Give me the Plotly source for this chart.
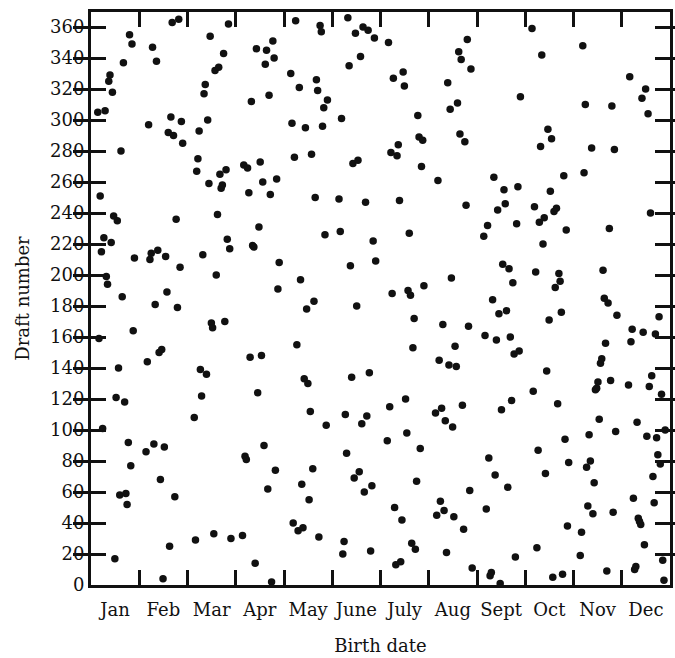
import plotly.graph_objects as go

# 1970 draft lottery: draft number assigned to each birth date, month by month
months = ["Jan", "Feb", "Mar", "Apr", "May", "June",
          "July", "Aug", "Sept", "Oct", "Nov", "Dec"]

jan = [305, 159, 251, 215, 101, 224, 306, 199, 194, 325, 329, 221, 318, 238, 17, 121,
       235, 140, 58, 280, 186, 337, 118, 59, 52, 92, 355, 77, 349, 164, 211]
feb = [86, 144, 297, 210, 214, 347, 91, 181, 338, 216, 150, 68, 152, 4, 89, 212,
       189, 292, 25, 302, 363, 290, 57, 236, 179, 365, 205, 299, 285]
mar = [108, 29, 267, 275, 293, 139, 122, 213, 317, 323, 136, 300, 259, 354, 169, 166,
       33, 332, 200, 239, 334, 265, 256, 258, 343, 170, 268, 223, 362, 217, 30]
apr = [32, 271, 83, 81, 269, 253, 147, 312, 219, 218, 14, 346, 124, 231, 273, 148,
       260, 90, 336, 345, 62, 316, 252, 2, 351, 340, 74, 262, 191, 208]
may = [330, 298, 40, 276, 364, 155, 35, 321, 197, 65, 37, 133, 295, 178, 130, 55,
       112, 278, 75, 183, 250, 326, 319, 31, 361, 357, 296, 308, 226, 103, 313]
jun = [249, 228, 301, 20, 28, 110, 85, 366, 335, 206, 134, 272, 69, 356, 180, 274,
       73, 341, 104, 360, 60, 247, 109, 358, 137, 22, 64, 222, 353, 209]
jul = [93, 350, 115, 279, 188, 327, 50, 13, 277, 284, 248, 15, 42, 331, 322, 120,
       98, 190, 227, 187, 27, 153, 172, 23, 67, 303, 289, 88, 270, 287, 193]
aug = [111, 45, 261, 145, 54, 114, 168, 48, 106, 21, 324, 142, 307, 198, 102, 44,
       154, 141, 311, 344, 291, 339, 116, 36, 286, 245, 352, 167, 61, 333, 11]
sep = [225, 161, 49, 232, 82, 6, 8, 184, 263, 71, 158, 242, 175, 1, 113, 207,
       255, 246, 177, 63, 204, 160, 119, 195, 149, 18, 233, 257, 151, 315]
oct_ = [359, 125, 244, 202, 24, 87, 234, 283, 342, 220, 237, 72, 138, 294, 171, 254,
        288, 5, 241, 192, 243, 117, 201, 196, 176, 7, 264, 94, 229, 38, 79]
nov = [19, 34, 348, 266, 310, 76, 51, 97, 80, 282, 46, 66, 126, 127, 131, 107,
       143, 146, 203, 185, 156, 9, 182, 230, 132, 309, 47, 281, 99, 174]
dec = [129, 328, 157, 165, 56, 10, 12, 105, 43, 41, 39, 314, 163, 26, 320, 96,
       304, 128, 240, 135, 70, 53, 162, 95, 84, 173, 78, 123, 16, 3, 100]

by_month = [jan, feb, mar, apr, may, jun, jul, aug, sep, oct_, nov, dec]
y_ticks = list(range(0, 361, 20))
month_edges = list(range(1, 12))

# every number 1..366 is drawn exactly once
assert sorted(v for m in by_month for v in m) == list(range(1, 367))

# each month gets an equal slot on the x axis; days spread evenly inside it
xs, ys = [], []
for mi, vals in enumerate(by_month):
    n = len(vals)
    for d, v in enumerate(vals):
        xs.append(mi + 0.14 + 0.76 * d / (n - 1))
        ys.append(v)

FONT = "DejaVu Serif"
INK = "#111111"
Y_MAX = 369.7

fig = go.Figure()

fig.add_trace(go.Scatter(
    x=xs, y=ys, mode="markers",
    marker=dict(size=7.5, color=INK),
    hoverinfo="skip",
))
# empty trace so the label axis is rendered
fig.add_trace(go.Scatter(x=[None], y=[None], xaxis="x2", yaxis="y",
                         hoverinfo="skip", showlegend=False))

fig.update_layout(
    width=675, height=658,
    margin=dict(l=91, r=2, t=12, b=73),
    plot_bgcolor="white", paper_bgcolor="white",
    showlegend=False,
    font=dict(family=FONT, color=INK),
)

# frame and inward month-boundary ticks, mirrored on the top edge
fig.update_layout(xaxis=dict(
    range=[0, 12],
    tickvals=month_edges,
    showticklabels=False,
    ticks="inside", ticklen=15, tickwidth=3, tickcolor=INK,
    showgrid=False, zeroline=False,
    showline=True, linecolor=INK, linewidth=3, mirror="allticks",
))

# month names centred in each slot
fig.update_layout(xaxis2=dict(
    overlaying="x", matches="x", anchor="y", side="bottom",
    range=[0, 12],
    tickvals=[i + 0.5 for i in range(12)],
    ticktext=months,
    ticks="", showline=False, showgrid=False, zeroline=False,
    ticklabelstandoff=12,
    tickfont=dict(size=18, family=FONT, color=INK),
    title=dict(text="Birth date", font=dict(size=18, family=FONT, color=INK), standoff=20),
))

fig.update_layout(yaxis=dict(
    range=[0, Y_MAX],
    tickvals=y_ticks,
    ticks="inside", ticklen=15, tickwidth=3, tickcolor=INK,
    tickfont=dict(size=18, family=FONT, color=INK),
    showgrid=False, zeroline=False,
    showline=True, linecolor=INK, linewidth=3, mirror="allticks",
    title=dict(text="Draft number", font=dict(size=18, family=FONT, color=INK), standoff=16),
))

fig.write_html("out.html")
